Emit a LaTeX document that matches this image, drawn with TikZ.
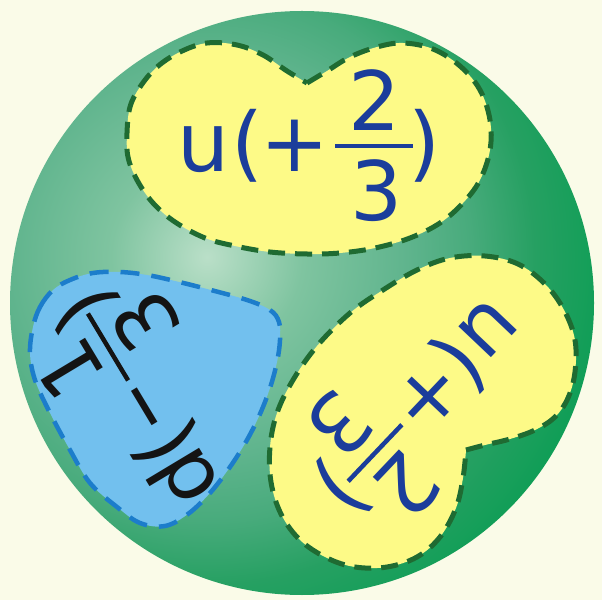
\documentclass[tikz,border=0pt]{standalone}
\usepackage{fontspec}
\usepackage{graphicx}
\newfontfamily\qfam{DejaVu Sans}
\definecolor{bgc}{HTML}{FAFBE8}
\definecolor{yfill}{HTML}{FDFA87}
\definecolor{gdash}{HTML}{1F6B32}
\definecolor{bfill}{HTML}{72C0EE}
\definecolor{bdash}{HTML}{1C7DCB}
\definecolor{qblue}{HTML}{1B3D9B}
\definecolor{qblack}{HTML}{141414}
\definecolor{s0}{HTML}{BADFC8}
\definecolor{s1}{HTML}{7FC4A0}
\definecolor{s2}{HTML}{5FB48D}
\definecolor{s3}{HTML}{48AB7C}
\definecolor{s4}{HTML}{26A062}
\definecolor{s5}{HTML}{0F9E56}
\pgfdeclareradialshading{spheregrad}{\pgfpoint{0bp}{0bp}}{color(0bp)=(s0); color(6bp)=(s1); color(12.5bp)=(s2); color(16.5bp)=(s3); color(20.5bp)=(s4); color(25bp)=(s5); color(50bp)=(s5)}
\newcommand{\quarklabel}[9]{%
  \begin{scope}[shift={#2}, rotate=#3]
    \node[qtext=#4] (#1-letter) at ({-171*#9},-26) {#5};
    \node[qtext=#4] (#1-open) at ({-127*#9},-26) {(};
    \node[qtext=#4] (#1-sign) at ({-79*#9},-26) {#6};
    \node[qtext=#4] (#1-num) at (1,15) {#7};
    \node[qtext=#4] (#1-den) at (3,-75) {#8};
    \node[qtext=#4] (#1-close) at ({50*#9},-26) {)};
    \draw[#4, line width=4.5pt] (-39,0) -- (39,0);
  \end{scope}}
\begin{document}
\begin{tikzpicture}[x=1pt,y=1pt,
  qtext/.style={text=#1, font=\qfam\fontsize{82}{96}\selectfont, inner sep=0pt, anchor=base, transform shape},
  yblob/.style={fill=yfill, draw=gdash, line width=5pt, dash pattern=on 17pt off 10pt},
  bblob/.style={fill=bfill, draw=bdash, line width=4.5pt, dash pattern=on 19pt off 12pt}]
\useasboundingbox (0,0) rectangle (602,600);
\fill[bgc] (0,0) rectangle (602,600);
% sphere
\begin{scope}
  \clip (302,297) circle (292pt);
  \shade[shading=spheregrad] (207,343) circle (400pt);
\end{scope}
% blobs (image coordinates)
\begin{scope}[x=1pt,y=-1pt,yshift=600pt]
  \path[yblob] plot[smooth, tension=0.6] coordinates {(307,83) (327,71) (350,57) (377,47) (403,43) (433,49) (460,66) (480,90) (490,120) (490,150) (480,180) (463,203) (440,223) (410,238) (375,248) (340,253) (307,254) (270,252) (235,246) (205,238) (175,222) (153,203) (137,180) (128,157) (127,133) (130,107) (140,87) (157,67) (180,52) (207,43) (237,45) (263,55) (287,71) (307,83)} -- cycle;
  \path[yblob] plot[smooth, tension=0.6] coordinates {(466,450) (485,445) (510,439) (535,430) (555,417) (568,398) (575,372) (575,340) (564,310) (545,284) (518,264) (485,256) (450,258) (417,270) (383,290) (350,313) (317,346) (293,380) (277,413) (270,447) (271,482) (281,514) (300,540) (327,558) (355,567) (387,567) (417,557) (440,537) (456,508) (463,478) (466,450)} -- cycle;
  \path[bblob] plot[smooth cycle, tension=0.6] coordinates {(33,327) (40,307) (53,290) (70,280) (93,273) (120,272) (147,275) (175,281) (207,289) (247,300) (270,310) (279,322) (280,340) (277,362) (270,388) (260,414) (247,440) (230,467) (210,493) (188,514) (165,526) (140,523) (117,507) (90,483) (70,450) (50,413) (35,380) (30,353)};
\end{scope}
% labels
\quarklabel{top}{(374,454)}{0}{qblue}{u}{+}{2}{3}{1}
\quarklabel{right}{(375,147)}{226.5}{qblue}{u}{+}{2}{3}{0.98}
\quarklabel{left}{(108,253)}{121}{qblack}{d}{\scalebox{0.78}[1]{−}}{1}{3}{0.89}
\end{tikzpicture}
\end{document}
